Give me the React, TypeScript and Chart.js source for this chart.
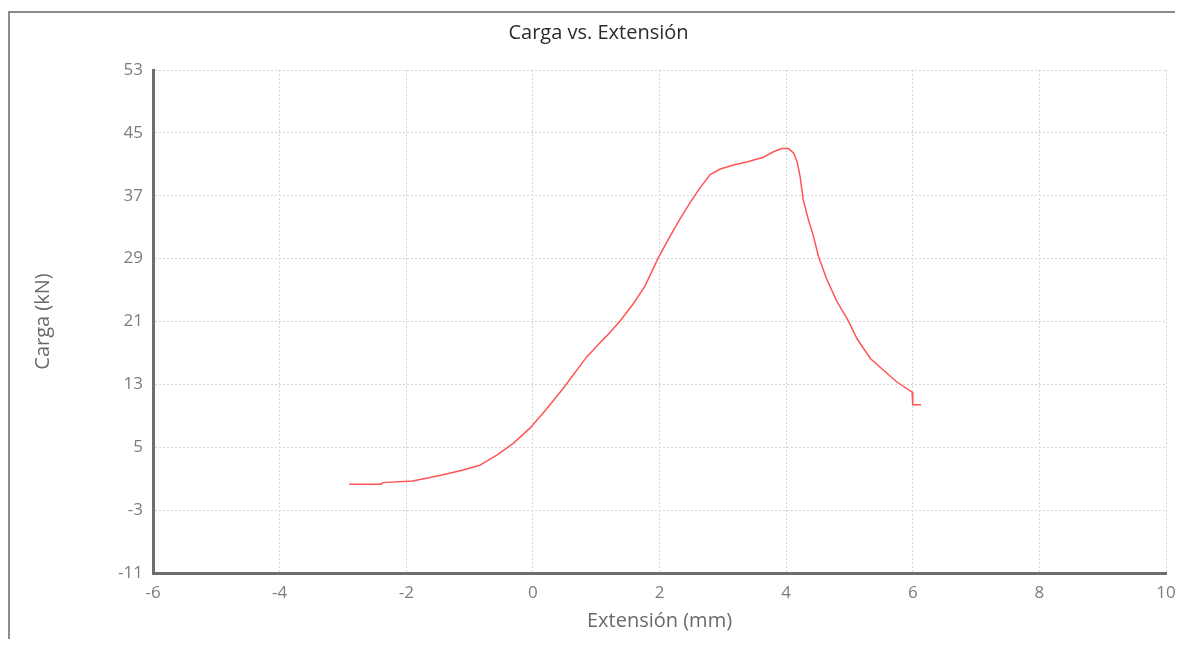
import React, { useEffect, useRef } from "react";
import { Chart, registerables } from "chart.js";

Chart.register(...registerables);

const extension: number[] = [
  -2.9, -2.4, -2.37, -1.9, -1.47, -1.1, -0.84, -0.57, -0.31, -0.05, 0.22, 0.48, 0.85, 1.06, 1.17, 1.38,
  1.58, 1.77, 1.98, 2.17, 2.32, 2.48, 2.64, 2.8, 2.96, 3.17, 3.38, 3.64, 3.8, 3.93, 4.04, 4.12, 4.17,
  4.22, 4.27, 4.35, 4.43, 4.51, 4.64, 4.8, 4.98, 5.12, 5.33, 5.54, 5.75, 5.99, 6.0, 6.13,
];
const load: number[] = [
  0.3, 0.3, 0.5, 0.7, 1.4, 2.1, 2.7, 4.0, 5.5, 7.4, 9.9, 12.5, 16.5, 18.3, 19.2, 21.1, 23.2, 25.5, 29.1,
  31.9, 34.0, 36.1, 38.0, 39.7, 40.4, 40.9, 41.3, 41.9, 42.6, 43.0, 43.0, 42.4, 41.4, 39.5, 36.5, 34.0,
  31.9, 29.3, 26.4, 23.6, 21.1, 18.8, 16.3, 14.8, 13.3, 12.0, 10.4, 10.4,
];

const chartTitle = "Carga vs. Extensión";
const xTitle = "Extensión (mm)";
const yTitle = "Carga (kN)";
const xMin = -6;
const xMax = 10;
const xStep = 2;
const yMin = -11;
const yMax = 53;
const yStep = 8;

if (typeof document !== "undefined") {
  document.documentElement.style.overflow = "hidden";
}

export default function App() {
  const ref = useRef<HTMLCanvasElement>(null);

  useEffect(() => {
    if (!ref.current) return;
    Chart.defaults.font.family = "'Open Sans', 'Noto Sans', sans-serif";
    const points = extension.map((x, i) => ({ x, y: load[i] }));
    const chart = new Chart(ref.current, {
      type: "line",
      data: {
        datasets: [
          {
            data: points,
            borderColor: "#ff5555",
            borderWidth: 1.5,
            pointRadius: 0,
            tension: 0,
            fill: false,
          },
        ],
      },
      options: {
        animation: false,
        responsive: true,
        maintainAspectRatio: false,
        layout: { padding: { left: 21, right: 17, top: 0, bottom: 0 } },
        plugins: {
          legend: { display: false },
          tooltip: { enabled: false },
          title: {
            display: true,
            text: chartTitle,
            color: "#2b2b2b",
            font: { size: 20, weight: "normal" },
            padding: { top: 8, bottom: 25 },
          },
        },
        scales: {
          x: {
            type: "linear",
            min: xMin,
            max: xMax,
            ticks: { stepSize: xStep, color: "#7d7d7d", font: { size: 17 }, padding: 0 },
            grid: {
              color: "#d6d6d6",
              lineWidth: 1,
              drawTicks: true,
              tickLength: 10,
              tickColor: "rgba(0,0,0,0)",
            },
            border: { display: true, color: "#6e6e6e", width: 3, dash: [2, 2] },
            title: {
              display: true,
              text: xTitle,
              color: "#6a6a6a",
              font: { size: 20 },
              padding: { top: 0, bottom: 6 },
            },
            afterFit: (scale: any) => {
              scale.height = 66;
            },
          },
          y: {
            type: "linear",
            min: yMin,
            max: yMax,
            ticks: { stepSize: yStep, color: "#7d7d7d", font: { size: 17 }, padding: 10 },
            grid: { color: "#d6d6d6", lineWidth: 1, drawTicks: false },
            border: { display: true, color: "#6e6e6e", width: 3, dash: [2, 2] },
            title: {
              display: true,
              text: yTitle,
              color: "#6a6a6a",
              font: { size: 20 },
              padding: { top: 0, bottom: 0 },
            },
            afterFit: (scale: any) => {
              scale.width = 122;
            },
          },
        },
      },
    });
    return () => chart.destroy();
  }, []);

  return (
    <div style={{ paddingTop: 3 }}>
      <div
        style={{
          borderTop: "2px solid #8c8c8c",
          borderLeft: "2px solid #8c8c8c",
          width: 1173,
          height: 626,
          position: "relative",
        }}
      >
        <canvas ref={ref} />
      </div>
    </div>
  );
}
